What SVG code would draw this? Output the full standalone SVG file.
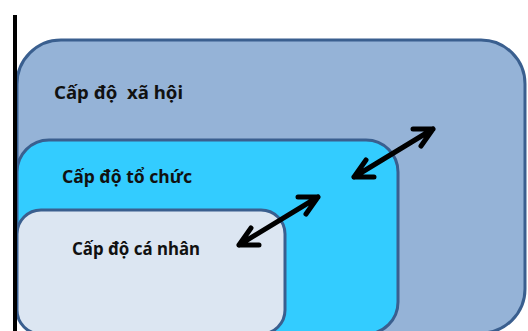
<svg xmlns="http://www.w3.org/2000/svg" width="528" height="331" viewBox="0 0 528 331">
  <defs>
    <style>
      .box { stroke: #3A5F8F; stroke-width: 3; }
      .lbl { font-family: "Noto Sans", "Liberation Sans", sans-serif; font-weight: bold; font-size: 17.5px; fill: #111; }
      .arrow { fill: none; stroke: #000; stroke-width: 5; stroke-linecap: round; stroke-linejoin: round; }
    </style>
  </defs>
  <rect width="528" height="331" fill="#FFFFFF"/>

  <g id="xa-hoi">
    <rect class="box" x="17" y="40" width="508" height="293" rx="44" ry="44" fill="#95B3D7"/>
    <text class="lbl" x="54" y="99" textLength="129" lengthAdjust="spacingAndGlyphs" xml:space="preserve">Cấp độ  xã hội</text>
  </g>

  <g id="to-chuc">
    <rect class="box" x="17" y="140" width="381" height="194" rx="32" ry="32" fill="#33CCFF"/>
    <text class="lbl" x="62" y="183" textLength="130" lengthAdjust="spacingAndGlyphs">Cấp độ tổ chức</text>
  </g>

  <g id="ca-nhan">
    <rect class="box" x="17" y="210" width="268" height="124" rx="24" ry="24" fill="#DCE6F2"/>
    <text class="lbl" x="72" y="255" textLength="128" lengthAdjust="spacingAndGlyphs">Cấp độ cá nhân</text>
  </g>

  <!-- left axis line -->
  <line x1="15" y1="15" x2="15" y2="331" stroke="#000" stroke-width="4"/>

  <g id="connectors">
    <!-- individual <-> organisation -->
    <path class="arrow" d="M239,245 L318,197 M239,245 L251,228 M239,245 L259,245 M318,197 L298,197 M318,197 L306,214"/>
    <!-- organisation <-> society -->
    <path class="arrow" d="M354,177 L433,129 M354,177 L366,160 M354,177 L374,177 M433,129 L413,129 M433,129 L421,146"/>
  </g>
</svg>
